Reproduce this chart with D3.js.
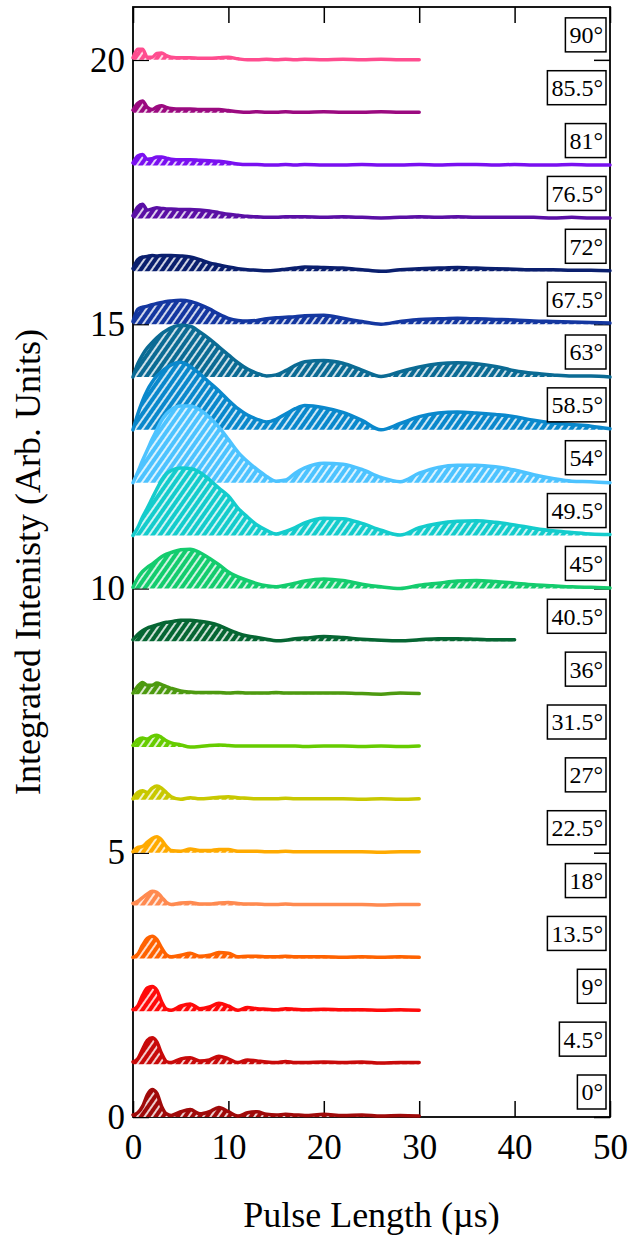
<!DOCTYPE html>
<html>
<head>
<meta charset="utf-8">
<script src="https://cdnjs.cloudflare.com/ajax/libs/d3/7.8.5/d3.min.js"></script>
<style>
  body { margin: 0; background: #fff; }
  svg { display: block; font-family: "Liberation Serif", "Times New Roman", serif; }
</style>
</head>
<body>
<svg id="chart" width="632" height="1239"></svg>
<script>
// sample times (µs) shared by every trace; short traces stop at 30 or 40
const pulseTimes = [0, 0.5, 1, 1.5, 2, 2.5, 3, 3.5, 4, 5, 6, 7, 8, 9, 10, 11, 12, 13, 14, 15, 16, 17, 18,
                    20, 22, 24, 26, 28, 30, 32, 34, 36, 38, 40, 42, 44, 46, 48, 50];

const angleLabels = ["0°", "4.5°", "9°", "13.5°", "18°", "22.5°", "27°", "31.5°", "36°", "40.5°", "45°",
                     "49.5°", "54°", "58.5°", "63°", "67.5°", "72°", "76.5°", "81°", "85.5°", "90°"];

const traceColors = ["#a00a0a", "#c80a0a", "#ff0a0a", "#ff6200", "#ff8a50", "#ffaa00", "#c8c800",
                     "#66cc00", "#4d9a10", "#066633", "#14cc6e", "#14cccc", "#4dc3ff", "#0a88cc",
                     "#0b6b94", "#1437a0", "#0a1f6e", "#5a0fa5", "#7a10f0", "#9b0a80", "#ff4d8f"];

// integrated intensity above each trace's own baseline (arb. units)
const deg0    = [0.04, 0.08, 0.2, 0.42, 0.52, 0.45, 0.2, 0.06, 0.03, 0.1, 0.14, 0.06, 0.1, 0.18, 0.1, 0.02, 0.08, 0.1, 0.05, 0.04, 0.05, 0.04, 0.03, 0.05, 0.03, 0.04, 0.02, 0.03, 0.02];
const deg4_5  = [0.04, 0.1, 0.28, 0.45, 0.5, 0.42, 0.2, 0.05, 0.03, 0.1, 0.12, 0.06, 0.08, 0.15, 0.1, 0.03, 0.08, 0.06, 0.04, 0.03, 0.05, 0.03, 0.03, 0.04, 0.03, 0.04, 0.02, 0.03, 0.03];
const deg9    = [0.03, 0.1, 0.3, 0.44, 0.47, 0.4, 0.18, 0.04, 0.02, 0.1, 0.14, 0.05, 0.08, 0.15, 0.1, 0.02, 0.07, 0.05, 0.04, 0.03, 0.05, 0.04, 0.03, 0.04, 0.03, 0.03, 0.02, 0.03, 0.02];
const deg13_5 = [0.02, 0.08, 0.25, 0.38, 0.42, 0.36, 0.2, 0.07, 0.03, 0.06, 0.1, 0.04, 0.06, 0.11, 0.1, 0.03, 0.04, 0.04, 0.03, 0.03, 0.04, 0.03, 0.03, 0.03, 0.02, 0.03, 0.02, 0.03, 0.02];
const deg18   = [0.04, 0.08, 0.15, 0.22, 0.27, 0.25, 0.16, 0.06, 0.02, 0.05, 0.06, 0.03, 0.03, 0.05, 0.06, 0.04, 0.03, 0.03, 0.02, 0.02, 0.03, 0.02, 0.02, 0.02, 0.02, 0.02, 0.01, 0.02, 0.02];
const deg22_5 = [0.02, 0.1, 0.12, 0.2, 0.27, 0.3, 0.24, 0.12, 0.04, 0.03, 0.07, 0.04, 0.04, 0.06, 0.06, 0.03, 0.03, 0.03, 0.02, 0.02, 0.03, 0.02, 0.02, 0.02, 0.02, 0.02, 0.01, 0.02, 0.02];
const deg27   = [0.02, 0.14, 0.17, 0.14, 0.22, 0.26, 0.22, 0.14, 0.06, 0.01, 0.04, 0.02, 0.03, 0.05, 0.06, 0.04, 0.03, 0.02, 0.02, 0.02, 0.03, 0.02, 0.02, 0.02, 0.02, 0.01, 0.02, 0.01, 0.02];
const deg31_5 = [0.03, 0.14, 0.17, 0.15, 0.2, 0.22, 0.18, 0.12, 0.08, 0.04, 0.0, 0.01, 0.03, 0.04, 0.03, 0.02, 0.02, 0.02, 0.02, 0.02, 0.02, 0.02, 0.01, 0.02, 0.02, 0.01, 0.02, 0.01, 0.02];
const deg36   = [0.02, 0.15, 0.22, 0.17, 0.17, 0.21, 0.18, 0.14, 0.11, 0.06, 0.04, 0.03, 0.03, 0.03, 0.02, 0.03, 0.02, 0.02, 0.02, 0.03, 0.02, 0.02, 0.02, 0.02, 0.02, 0.01, 0.0, 0.02, 0.01];
const deg40_5 = [0.03, 0.13, 0.2, 0.25, 0.28, 0.31, 0.34, 0.36, 0.37, 0.4, 0.4, 0.38, 0.35, 0.3, 0.22, 0.15, 0.1, 0.07, 0.04, 0.01, 0.02, 0.05, 0.06, 0.09, 0.07, 0.04, 0.02, 0.01, 0.03, 0.05, 0.05, 0.04, 0.03, 0.03];
const deg45   = [0.02, 0.2, 0.32, 0.4, 0.46, 0.53, 0.6, 0.65, 0.68, 0.73, 0.74, 0.68, 0.57, 0.45, 0.31, 0.22, 0.15, 0.09, 0.05, 0.03, 0.06, 0.1, 0.14, 0.18, 0.15, 0.08, 0.03, 0.0, 0.06, 0.1, 0.14, 0.15, 0.13, 0.1, 0.07, 0.05, 0.03, 0.02, 0.01];
const deg49_5 = [0.0, 0.15, 0.35, 0.52, 0.7, 0.88, 1.05, 1.17, 1.23, 1.28, 1.27, 1.2, 1.06, 0.9, 0.75, 0.52, 0.35, 0.2, 0.1, 0.03, 0.08, 0.15, 0.24, 0.33, 0.32, 0.23, 0.1, 0.01, 0.15, 0.23, 0.27, 0.28, 0.25, 0.2, 0.14, 0.09, 0.06, 0.03, 0.02];
const deg54   = [0.0, 0.2, 0.42, 0.62, 0.82, 1.0, 1.18, 1.3, 1.38, 1.45, 1.45, 1.38, 1.24, 1.05, 0.82, 0.58, 0.4, 0.25, 0.12, 0.03, 0.05, 0.18, 0.28, 0.37, 0.35, 0.25, 0.1, 0.02, 0.18, 0.29, 0.33, 0.33, 0.3, 0.24, 0.15, 0.08, 0.03, 0.02, 0.0];
const deg58_5 = [0.0, 0.3, 0.55, 0.75, 0.9, 1.02, 1.1, 1.17, 1.23, 1.28, 1.2, 1.06, 0.9, 0.74, 0.56, 0.4, 0.28, 0.2, 0.15, 0.2, 0.3, 0.4, 0.46, 0.42, 0.33, 0.18, 0.0, 0.12, 0.25, 0.32, 0.34, 0.32, 0.29, 0.25, 0.18, 0.13, 0.1, 0.07, 0.02];
const deg63   = [0.0, 0.25, 0.42, 0.55, 0.65, 0.74, 0.82, 0.88, 0.93, 0.98, 0.96, 0.85, 0.72, 0.57, 0.42, 0.27, 0.15, 0.07, 0.02, 0.04, 0.12, 0.22, 0.29, 0.31, 0.26, 0.13, 0.01, 0.1, 0.19, 0.25, 0.27, 0.25, 0.2, 0.12, 0.07, 0.04, 0.02, 0.02, 0.0];
const deg67_5 = [0.05, 0.28, 0.32, 0.34, 0.37, 0.39, 0.41, 0.43, 0.44, 0.45, 0.43, 0.37, 0.29, 0.19, 0.11, 0.07, 0.06, 0.07, 0.1, 0.12, 0.13, 0.14, 0.16, 0.17, 0.11, 0.05, 0.0, 0.05, 0.09, 0.1, 0.11, 0.1, 0.09, 0.08, 0.06, 0.05, 0.04, 0.03, 0.02];
const deg72   = [0.05, 0.22, 0.27, 0.28, 0.3, 0.29, 0.3, 0.3, 0.3, 0.29, 0.27, 0.22, 0.16, 0.12, 0.08, 0.05, 0.03, 0.02, 0.01, 0.02, 0.04, 0.06, 0.08, 0.07, 0.06, 0.03, 0.0, 0.03, 0.05, 0.06, 0.07, 0.06, 0.05, 0.04, 0.03, 0.03, 0.02, 0.02, 0.01];
const deg76_5 = [0.05, 0.22, 0.27, 0.16, 0.18, 0.2, 0.19, 0.18, 0.18, 0.17, 0.17, 0.16, 0.14, 0.11, 0.08, 0.06, 0.04, 0.03, 0.02, 0.02, 0.03, 0.03, 0.03, 0.02, 0.03, 0.02, 0.01, 0.02, 0.03, 0.02, 0.03, 0.02, 0.02, 0.02, 0.02, 0.01, 0.02, 0.01, 0.01];
const deg81   = [0.05, 0.18, 0.21, 0.12, 0.13, 0.16, 0.16, 0.14, 0.12, 0.11, 0.11, 0.1, 0.09, 0.08, 0.06, 0.03, 0.02, 0.02, 0.01, 0.01, 0.02, 0.01, 0.02, 0.01, 0.01, 0.02, 0.01, 0.01, 0.02, 0.01, 0.02, 0.02, 0.01, 0.02, 0.01, 0.01, 0.02, 0.01, 0.01];
const deg85_5 = [0.05, 0.18, 0.22, 0.1, 0.06, 0.11, 0.13, 0.1, 0.08, 0.07, 0.07, 0.06, 0.06, 0.06, 0.04, 0.02, 0.01, 0.02, 0.01, 0.01, 0.02, 0.01, 0.01, 0.02, 0.01, 0.01, 0.02, 0.01, 0.01];
const deg90   = [0.04, 0.2, 0.2, 0.05, 0.05, 0.12, 0.13, 0.08, 0.05, 0.04, 0.04, 0.03, 0.03, 0.04, 0.05, 0.02, 0.0, 0.0, 0.01, 0.0, 0.01, 0.0, 0.01, 0.0, 0.01, 0.0, 0.01, 0.0, 0.0];

const seriesValues = [deg0, deg4_5, deg9, deg13_5, deg18, deg22_5, deg27, deg31_5, deg36, deg40_5, deg45,
                      deg49_5, deg54, deg58_5, deg63, deg67_5, deg72, deg76_5, deg81, deg85_5, deg90];

const xTicks = [0, 10, 20, 30, 40, 50];
const yTicks = [0, 5, 10, 15, 20];

const width = 632, height = 1239;
const margin = {top: 7, right: 22, bottom: 122, left: 133};

const svg = d3.select("#chart");

const x = d3.scaleLinear().domain([0, 50]).range([margin.left, width - margin.right]);
const y = d3.scaleLinear().domain([0, 21]).range([height - margin.bottom, margin.top]);

// white diagonal hatching over each trace colour
const defs = svg.append("defs");
traceColors.forEach((c, i) => {
    let p = defs.append("pattern")
        .attr("id", "hatch" + i)
        .attr("patternUnits", "userSpaceOnUse")
        .attr("width", 6)
        .attr("height", 6)
        .attr("patternTransform", "rotate(35)");
    p.append("rect").attr("width", 6).attr("height", 6).attr("fill", c);
    p.append("line")
        .attr("x1", 3).attr("y1", 0).attr("x2", 3).attr("y2", 6)
        .attr("stroke", "#fff").attr("stroke-width", 1.6);
});

// axes, ticks point inward
const axisStyle = (g) => {
    g.select(".domain").remove();
    g.selectAll(".tick line").attr("stroke", "#000").attr("stroke-width", 1.5);
    g.selectAll("text").attr("font-size", 35).attr("fill", "#000")
        .attr("font-family", "Liberation Serif, Times New Roman, serif");
};

svg.append("g")
    .attr("transform", `translate(0,${y(0)})`)
    .call(d3.axisBottom(x).tickValues(xTicks).tickSize(-16).tickPadding(17))
    .call(axisStyle);

svg.append("g")
    .attr("transform", `translate(0,${y(21)})`)
    .call(d3.axisTop(x).tickValues(xTicks).tickSize(-16).tickFormat(""))
    .call(axisStyle);

svg.append("g")
    .attr("transform", `translate(${x(0)},0)`)
    .call(d3.axisLeft(y).tickValues(yTicks).tickSize(-16).tickPadding(8))
    .call(axisStyle);

svg.append("g")
    .attr("transform", `translate(${x(50)},0)`)
    .call(d3.axisRight(y).tickValues(yTicks).tickSize(-16).tickFormat(""))
    .call(axisStyle);

svg.append("rect")
    .attr("x", x(0)).attr("y", y(21))
    .attr("width", x(50) - x(0)).attr("height", y(0) - y(21))
    .attr("fill", "none").attr("stroke", "#000").attr("stroke-width", 1.8);

// traces, highest angle first so lower ones sit on top
const traces = svg.append("g");
for (let i = seriesValues.length - 1; i >= 0; i--) {
    let pts = seriesValues[i].map((v, k) => ({t: pulseTimes[k], v: v}));
    let area = d3.area()
        .x(d => x(d.t))
        .y0(y(i))
        .y1(d => y(i + d.v))
        .curve(d3.curveMonotoneX);
    let line = d3.line()
        .x(d => x(d.t))
        .y(d => y(i + d.v))
        .curve(d3.curveMonotoneX);
    traces.append("path")
        .attr("d", area(pts))
        .attr("fill", `url(#hatch${i})`);
    traces.append("path")
        .attr("d", line(pts))
        .attr("fill", "none")
        .attr("stroke", traceColors[i])
        .attr("stroke-width", 3.5)
        .attr("stroke-linejoin", "round")
        .attr("stroke-linecap", "round");
}

// boxed angle labels at the right edge
const labels = svg.append("g");
angleLabels.forEach((lab, i) => {
    let cy = y(i) - 25;
    let g = labels.append("g");
    let box = g.append("rect");
    let txt = g.append("text")
        .attr("x", 603)
        .attr("y", cy)
        .attr("dy", "0.35em")
        .attr("text-anchor", "end")
        .attr("font-size", 24)
        .text(lab);
    let bb = txt.node().getBBox();
    box.attr("x", bb.x - 4)
        .attr("y", cy - 17)
        .attr("width", bb.width + 7)
        .attr("height", 34)
        .attr("fill", "#fff")
        .attr("stroke", "#000")
        .attr("stroke-width", 1.5);
});

// axis titles
svg.append("text")
    .attr("x", (x(0) + x(50)) / 2)
    .attr("y", 1227)
    .attr("text-anchor", "middle")
    .attr("font-size", 36)
    .text("Pulse Length (µs)");

svg.append("text")
    .attr("transform", `translate(40,${(y(0) + y(21)) / 2}) rotate(-90)`)
    .attr("text-anchor", "middle")
    .attr("font-size", 36)
    .text("Integrated Intenisty (Arb. Units)");
</script>
</body>
</html>
